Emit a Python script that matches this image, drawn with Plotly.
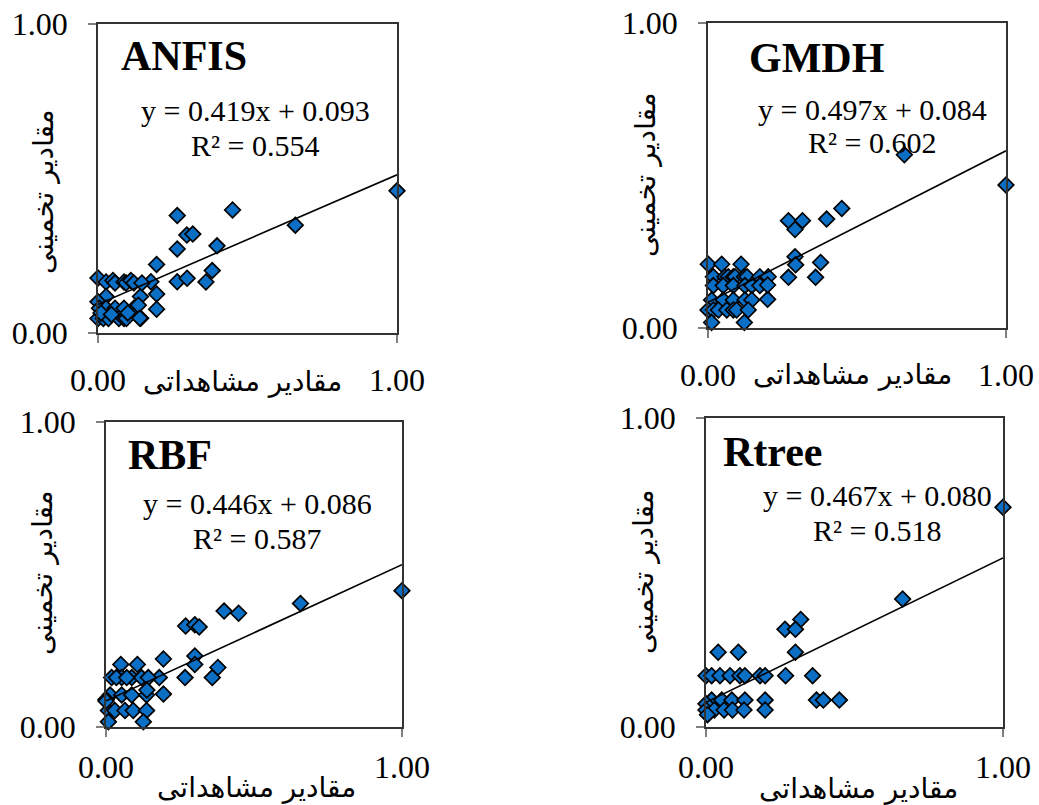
import plotly.graph_objects as go

# ---------------- data ----------------
MODELS = ["ANFIS", "GMDH", "RBF", "Rtree"]
SLOPES = [0.419, 0.497, 0.446, 0.467]
INTERCEPTS = [0.093, 0.084, 0.086, 0.080]
R2 = [0.554, 0.602, 0.587, 0.518]
TICK_VALS = [0, 1]
TICK_TEXT = ["0.00", "1.00"]
X_TITLE = "مقادیر مشاهداتی"
Y_TITLE = "مقادیر تخمینی"

ANFIS_X = [1.0, 0.66, 0.45, 0.265, 0.297, 0.317, 0.265, 0.398, 0.196, 0.382, 0.361, 0.265, 0.298, 0.177,
           0.196, 0.196, 0.142, 0.143,
           0.0, 0.027, 0.05, 0.057, 0.087, 0.094, 0.11, 0.12, 0.147,
           0.027, 0.0, 0.005, 0.027, 0.057, 0.087, 0.12, 0.135,
           0.0, 0.018, 0.035, 0.07, 0.087, 0.095, 0.14, 0.01, 0.045, 0.1]
ANFIS_Y = [0.46, 0.349, 0.398, 0.38, 0.317, 0.32, 0.272, 0.282, 0.222, 0.202, 0.165, 0.166, 0.177, 0.166,
           0.126, 0.077, 0.118, 0.048,
           0.178, 0.165, 0.17, 0.162, 0.165, 0.162, 0.17, 0.162, 0.162,
           0.118, 0.101, 0.08, 0.08, 0.08, 0.08, 0.08, 0.09,
           0.047, 0.047, 0.047, 0.047, 0.047, 0.047, 0.048, 0.065, 0.06, 0.065]

GMDH_X = [1.0, 0.659, 0.449, 0.398, 0.27, 0.317, 0.292, 0.292, 0.294, 0.378, 0.27, 0.361, 0.2,
          0.001, 0.046, 0.111,
          0.018, 0.057, 0.068, 0.085, 0.091, 0.122, 0.131, 0.174, 0.202,
          0.018, 0.051, 0.085, 0.124, 0.147, 0.174, 0.2,
          0.012, 0.051, 0.085, 0.124, 0.147,
          0.0, 0.018, 0.035, 0.063, 0.085, 0.096, 0.135,
          0.012, 0.122]
GMDH_Y = [0.469, 0.568, 0.392, 0.357, 0.352, 0.352, 0.323, 0.234, 0.207, 0.215, 0.166, 0.166, 0.094,
          0.209, 0.209, 0.209,
          0.168, 0.168, 0.168, 0.168, 0.168, 0.168, 0.168, 0.168, 0.168,
          0.139, 0.139, 0.139, 0.139, 0.139, 0.139, 0.141,
          0.092, 0.092, 0.092, 0.092, 0.092,
          0.059, 0.059, 0.059, 0.059, 0.059, 0.059, 0.059,
          0.018, 0.018]

RBF_X = [1.0, 0.657, 0.399, 0.448, 0.269, 0.30, 0.315, 0.194, 0.30, 0.30, 0.378, 0.359, 0.267, 0.18, 0.194,
         0.05, 0.106,
         0.019, 0.053, 0.087, 0.12, 0.143, 0.035, 0.07,
         0.014, 0.053, 0.087, 0.137, 0.138, 0.0,
         0.008, 0.03, 0.064, 0.092, 0.137,
         0.008, 0.126, 0.0]
RBF_Y = [0.447, 0.405, 0.380, 0.373, 0.331, 0.335, 0.328, 0.223, 0.233, 0.205, 0.195, 0.162, 0.162, 0.162, 0.108,
         0.205, 0.205,
         0.162, 0.162, 0.162, 0.162, 0.162, 0.162, 0.162,
         0.105, 0.105, 0.105, 0.105, 0.121, 0.09,
         0.054, 0.054, 0.054, 0.054, 0.054,
         0.017, 0.017, 0.085]

RTREE_X = [1.0, 0.662, 0.319, 0.266, 0.301, 0.301, 0.041, 0.109,
           0.0, 0.019, 0.047, 0.081, 0.114, 0.131, 0.182, 0.199, 0.268, 0.359,
           0.019, 0.053, 0.087, 0.131, 0.199, 0.372, 0.395, 0.449, 0.0,
           0.0, 0.028, 0.061, 0.089, 0.128, 0.199, 0.005]
RTREE_Y = [0.711, 0.414, 0.348, 0.316, 0.316, 0.242, 0.242, 0.242,
           0.166, 0.166, 0.166, 0.166, 0.166, 0.166, 0.166, 0.166, 0.166, 0.166,
           0.087, 0.087, 0.087, 0.087, 0.087, 0.087, 0.087, 0.087, 0.075,
           0.055, 0.055, 0.055, 0.055, 0.055, 0.055, 0.04]

SERIES_X = [ANFIS_X, GMDH_X, RBF_X, RTREE_X]
SERIES_Y = [ANFIS_Y, GMDH_Y, RBF_Y, RTREE_Y]

# ---------------- layout (pixel geometry) ----------------
W, H = 1039, 805
# plot boxes: left, top, right, bottom in pixels
BOXES = [(98, 24, 397, 333), (708, 23, 1006, 328), (106, 422, 402, 727), (706, 418, 1003, 727)]
TITLE_POS = [(184, 56), (816, 58), (170, 455), (772, 452)]
EQ_POS = [(255, 110), (872, 109), (257, 503), (877, 495)]
R2_POS = [(255, 145), (872, 143), (257, 538), (877, 530)]
XT_POS = [(242, 381), (852, 374), (256, 787), (858, 788)]
YT_POS = [(43, 192), (646, 175), (42, 573), (643, 572)]
XTICK_STANDOFF = [10, 10, 3, 3]

SERIF = "Liberation Serif, Times New Roman, serif"
ARABIC = "DejaVu Sans, Noto Sans, sans-serif"
BLUE = "#0B6FC6"


def px(x):
    return x / W


def py(y):
    return 1 - y / H


fig = go.Figure()
annotations = []

for i in range(4):
    n = i + 1
    xa = "x" if n == 1 else f"x{n}"
    ya = "y" if n == 1 else f"y{n}"
    l, t, r, b = BOXES[i]

    fig.add_trace(go.Scatter(
        x=SERIES_X[i], y=SERIES_Y[i], mode="markers", xaxis=xa, yaxis=ya,
        marker=dict(symbol="diamond", size=12, color=BLUE, line=dict(color="black", width=1.7)),
        cliponaxis=False, showlegend=False, hoverinfo="x+y"))

    line_x = [0, 1]
    line_y = [INTERCEPTS[i] + SLOPES[i] * v for v in line_x]
    fig.add_trace(go.Scatter(
        x=line_x, y=line_y, mode="lines", xaxis=xa, yaxis=ya,
        line=dict(color="black", width=1.6), showlegend=False, hoverinfo="skip"))

    axis_common = dict(
        range=[0, 1], tickvals=TICK_VALS, ticktext=TICK_TEXT, ticks="outside", ticklen=8,
        tickcolor="#7f7f7f", tickwidth=1.5, showline=True, linecolor="#333333", linewidth=1.8,
        mirror=True, showgrid=False, zeroline=False, fixedrange=True, automargin=False,
        tickfont=dict(family=SERIF, size=32, color="black"))

    fig.update_layout(**{
        ("xaxis" if n == 1 else f"xaxis{n}"): dict(
            axis_common, domain=[px(l), px(r)], anchor=ya, ticklabelstandoff=XTICK_STANDOFF[i]),
        ("yaxis" if n == 1 else f"yaxis{n}"): dict(
            axis_common, domain=[py(b), py(t)], anchor=xa, ticklabelstandoff=14),
    })

    annotations.append(dict(text=f"<b>{MODELS[i]}</b>", x=px(TITLE_POS[i][0]), y=py(TITLE_POS[i][1]),
                            xref="paper", yref="paper", showarrow=False, xanchor="center", yanchor="middle",
                            font=dict(family=SERIF, size=42, color="black")))
    annotations.append(dict(text=f"y = {SLOPES[i]:.3f}x + {INTERCEPTS[i]:.3f}",
                            x=px(EQ_POS[i][0]), y=py(EQ_POS[i][1]),
                            xref="paper", yref="paper", showarrow=False, xanchor="center", yanchor="middle",
                            font=dict(family=SERIF, size=30, color="black")))
    annotations.append(dict(text=f"R² = {R2[i]:.3f}", x=px(R2_POS[i][0]), y=py(R2_POS[i][1]),
                            xref="paper", yref="paper", showarrow=False, xanchor="center", yanchor="middle",
                            font=dict(family=SERIF, size=30, color="black")))
    annotations.append(dict(text=X_TITLE, x=px(XT_POS[i][0]), y=py(XT_POS[i][1]),
                            xref="paper", yref="paper", showarrow=False, xanchor="center", yanchor="middle",
                            font=dict(family=ARABIC, size=28, color="black")))
    annotations.append(dict(text=Y_TITLE, x=px(YT_POS[i][0]), y=py(YT_POS[i][1]), textangle=-90,
                            xref="paper", yref="paper", showarrow=False, xanchor="center", yanchor="middle",
                            font=dict(family=ARABIC, size=28, color="black")))

fig.update_layout(width=W, height=H, margin=dict(l=0, r=0, t=0, b=0),
                  paper_bgcolor="white", plot_bgcolor="white", showlegend=False,
                  annotations=annotations)

fig.write_html("out.html", config={"displayModeBar": False},
               post_script="document.body.style.margin='0';document.body.style.padding='0';"
                           "document.body.style.overflow='hidden';")
